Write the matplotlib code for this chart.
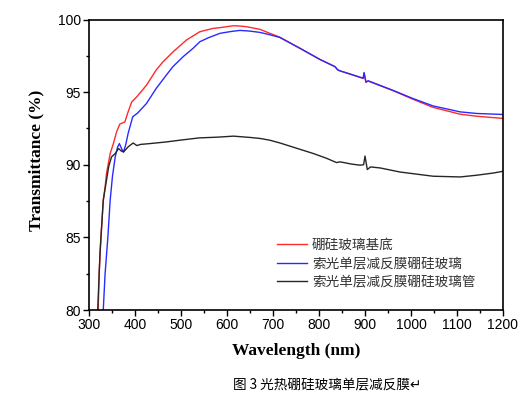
import numpy as np
import matplotlib
matplotlib.use("Agg")
import matplotlib.pyplot as plt
from matplotlib.ticker import MultipleLocator

# datos (longitud de onda en nm, transmitancia en %)
wl_sustrato = [320, 322, 326, 331, 335, 338, 346, 353, 360, 367, 378, 385, 393, 404,
               425, 446, 461, 483, 512, 541, 570, 585, 614, 628, 643, 672, 693, 715,
               759, 802, 835, 840, 845, 875, 896, 898, 902, 907, 961, 1005, 1048,
               1107, 1143, 1200]
t_sustrato = [80.0, 82.5, 85.0, 87.55, 88.47, 89.39, 90.77, 91.46, 92.26, 92.8, 92.95,
              93.64, 94.33, 94.68, 95.48, 96.52, 97.09, 97.78, 98.59, 99.16, 99.39,
              99.44, 99.57, 99.55, 99.5, 99.32, 99.05, 98.78, 98.01, 97.25, 96.75,
              96.55, 96.47, 96.17, 95.94, 96.3, 95.7, 95.76, 95.1, 94.5, 93.95,
              93.48, 93.34, 93.19]

wl_pelicula = [331, 335, 341, 346, 351, 357, 362, 366, 371, 375, 380, 385, 395, 406,
               425, 446, 464, 482, 505, 526, 541, 560, 585, 610, 628, 650, 672, 693,
               715, 759, 802, 835, 840, 845, 875, 896, 898, 902, 907, 961, 1005,
               1048, 1107, 1143, 1200]
t_pelicula = [80.0, 82.5, 85.0, 87.55, 89.2, 90.54, 91.2, 91.46, 91.1, 90.88, 91.4,
              92.15, 93.3, 93.57, 94.22, 95.25, 96.0, 96.74, 97.45, 98.01, 98.47,
              98.75, 99.05, 99.18, 99.25, 99.2, 99.11, 98.95, 98.76, 98.01, 97.25,
              96.75, 96.55, 96.47, 96.17, 95.96, 96.35, 95.68, 95.78, 95.12, 94.55,
              94.05, 93.64, 93.53, 93.46]

wl_tubo = [319, 324, 331, 338, 343, 349, 357, 364, 370, 375, 380, 385, 396, 404, 412,
           430, 468, 500, 540, 580, 614, 650, 672, 693, 715, 750, 788, 816, 838, 846,
           870, 889, 897, 900, 905, 912, 933, 976, 1048, 1107, 1143, 1179, 1200]
t_tubo = [80.0, 84.0, 87.55, 88.93, 89.9, 90.54, 90.77, 91.12, 90.95, 90.88, 91.05,
          91.23, 91.5, 91.32, 91.4, 91.45, 91.57, 91.7, 91.85, 91.9, 91.97, 91.88,
          91.81, 91.69, 91.5, 91.15, 90.77, 90.45, 90.15, 90.2, 90.05, 89.97, 90.0,
          90.6, 89.67, 89.85, 89.78, 89.5, 89.21, 89.16, 89.28, 89.43, 89.55]

etiquetas = ["硼硅玻璃基底", "索光单层减反膜硼硅玻璃", "索光单层减反膜硼硅玻璃管"]
colores = ["#ff2a2a", "#2a2aff", "#262626"]

fig = plt.figure(figsize=(5.29, 3.97), dpi=100)
ax = fig.add_axes([89 / 529, 1 - 310 / 397, 414 / 529, 290.5 / 397])

series = [(wl_sustrato, t_sustrato), (wl_pelicula, t_pelicula), (wl_tubo, t_tubo)]
for (x, y), lab, c in zip(series, etiquetas, colores):
    ax.plot(x, y, color=c, lw=1.0, label=lab)

ax.set_xlim(300, 1200)
ax.set_ylim(80, 100)
ax.xaxis.set_major_locator(MultipleLocator(100))
ax.xaxis.set_minor_locator(MultipleLocator(50))
ax.yaxis.set_major_locator(MultipleLocator(5))
ax.yaxis.set_minor_locator(MultipleLocator(2.5))
ax.tick_params(which="major", direction="out", length=4, width=1.0,
               labelsize=10, pad=2)
ax.tick_params(which="minor", direction="out", length=2.5, width=1.0)
for lbl in ax.get_xticklabels() + ax.get_yticklabels():
    lbl.set_family("Liberation Sans")
for s in ax.spines.values():
    s.set_linewidth(1.2)

ax.set_xlabel("Wavelength (nm)", family="Liberation Serif", weight="bold", fontsize=12.5)
ax.set_ylabel("Transmittance (%)", family="Liberation Serif", weight="bold", fontsize=12.5)
ax.xaxis.set_label_coords(0.5, -0.115)
ax.yaxis.set_label_coords(-0.108, 0.515)

leg = ax.legend(loc="upper left", bbox_to_anchor=(0.454, 0.248), frameon=False,
                prop={"family": ["Noto Sans CJK SC", "DejaVu Sans"], "size": 9.8},
                handlelength=2.2, handletextpad=0.38, labelspacing=0.32,
                borderaxespad=0, borderpad=0)
for t in leg.get_texts():
    t.set_color("#333333")

fig.text(0.44, 1 - 384 / 397, "图 3 光热硼硅玻璃单层减反膜↵", ha="left", va="center",
         family=["Noto Sans CJK SC", "DejaVu Sans"], fontsize=9.8)

plt.savefig("out.png", dpi=100)
